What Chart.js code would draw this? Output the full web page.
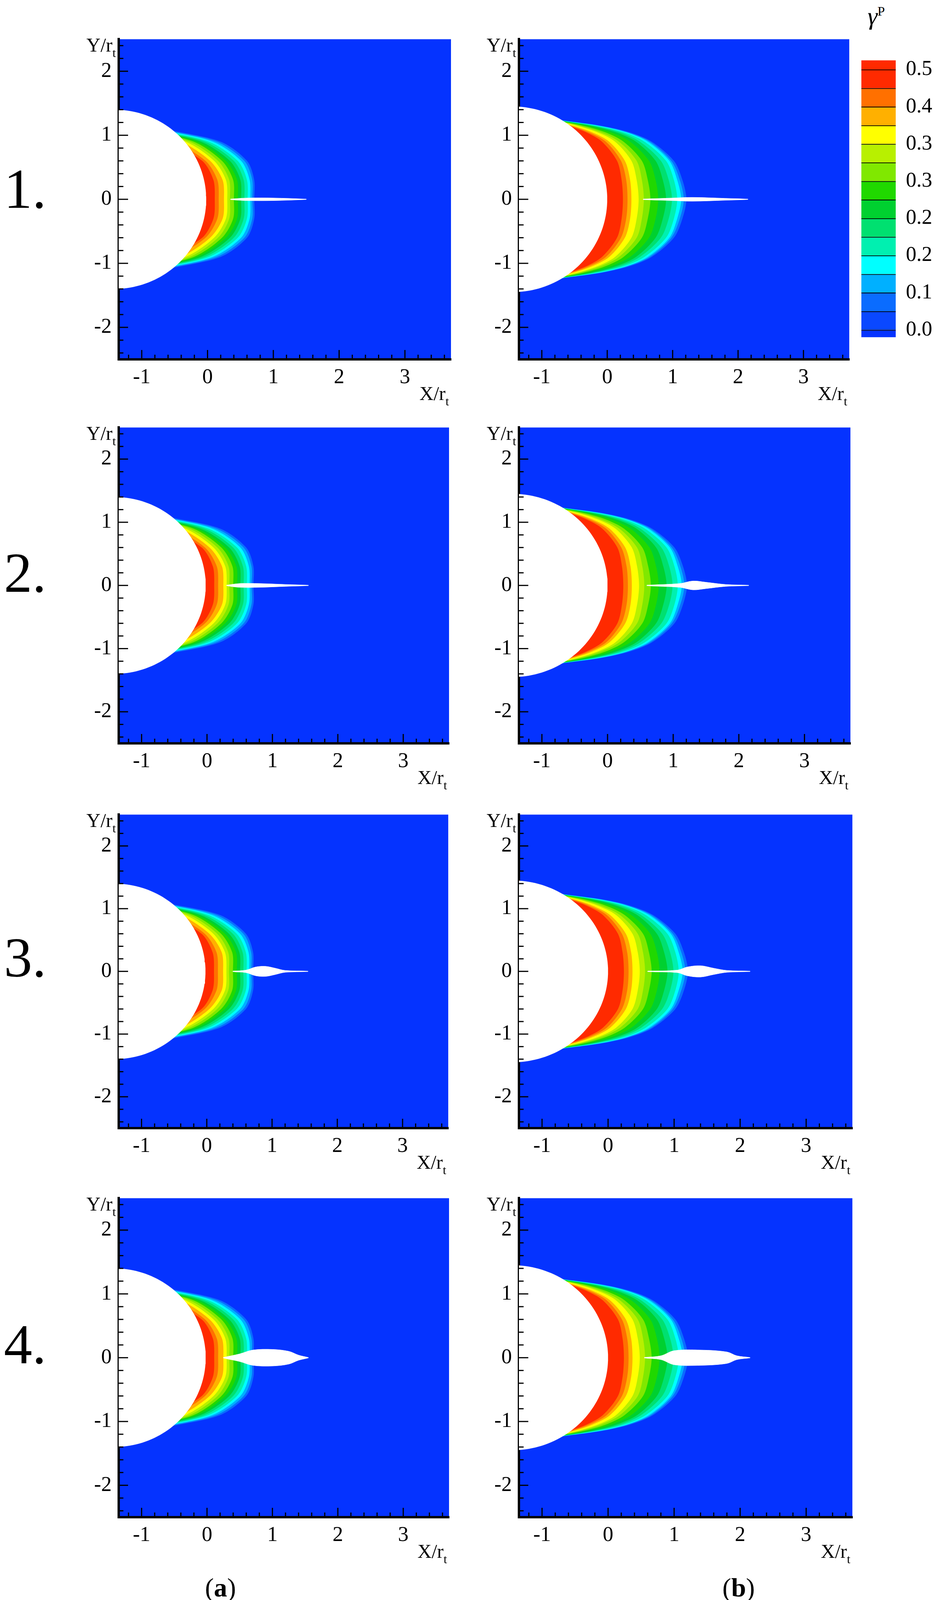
<!DOCTYPE html>
<html>
<head>
<meta charset="utf-8">
<script src="https://cdn.jsdelivr.net/npm/chart.js@4.4.0/dist/chart.umd.min.js"></script>
<style>
  body { margin: 0; background: #fff; width: 2433px; height: 4148px; position: relative; overflow: hidden; }
  canvas { position: absolute; }
  .lbl { position: absolute; font-family: "Liberation Serif", serif; color: #000; }
</style>
</head>
<body>
<div class="lbl" style="left:10px;top:400px;font-size:145px">1.</div>
<div class="lbl" style="left:10px;top:1383px;font-size:145px">2.</div>
<div class="lbl" style="left:10px;top:2368px;font-size:145px">3.</div>
<div class="lbl" style="left:10px;top:3358px;font-size:145px">4.</div>
<div class="lbl" style="left:525px;top:4025px;font-size:68px">(<b>a</b>)</div>
<div class="lbl" style="left:1850px;top:4025px;font-size:68px">(<b>b</b>)</div>
<div class="lbl" style="left:2222px;top:4px;font-size:64px;font-style:italic">γ<sup style="font-size:34px;font-style:normal">P</sup></div>
<script>
// contour level boundaries: x positions at these y values (upper half, mirrored below)
const levelYsA = [0, 0.3, 0.6, 0.9, 1.1, 1.3];
const levelYsB = [0, 0.3, 0.6, 0.9, 1.05, 1.15, 1.3];
const levelColors = ['#0a6cff', '#00b0ff', '#00ffff', '#00f0b0', '#00e070', '#00d030',
  '#20d800', '#80e800', '#b8f000', '#ffff00', '#ffb000', '#ff7000', '#ff2a00'];
const levelsA = [
  [0.71, 0.71, 0.60, 0.20, -0.65, -1.3],
  [0.68, 0.68, 0.56, 0.14, -0.70, -1.3],
  [0.65, 0.64, 0.51, 0.08, -0.75, -1.3],
  [0.61, 0.60, 0.46, 0.02, -0.80, -1.3],
  [0.56, 0.55, 0.40, -0.04, -0.85, -1.3],
  [0.51, 0.50, 0.34, -0.10, -0.90, -1.3],
  [0.46, 0.45, 0.28, -0.16, -0.95, -1.3],
  [0.40, 0.39, 0.22, -0.21, -1.0, -1.3],
  [0.34, 0.33, 0.16, -0.27, -1.0, -1.3],
  [0.30, 0.28, 0.10, -0.33, -1.0, -1.3],
  [0.25, 0.23, 0.04, -0.40, -1.0, -1.3],
  [0.17, 0.15, -0.03, -0.50, -1.0, -1.3],
  [0.11, 0.09, -0.08, -0.60, -1.0, -1.3]
];
const levelsB = [
  [1.21, 1.15, 1.02, 0.68, 0.33, -0.10, -1.1],
  [1.17, 1.11, 0.98, 0.65, 0.30, -0.12, -1.1],
  [1.13, 1.07, 0.95, 0.62, 0.28, -0.14, -1.1],
  [1.07, 1.02, 0.90, 0.57, 0.24, -0.18, -1.1],
  [0.99, 0.94, 0.82, 0.50, 0.18, -0.22, -1.1],
  [0.90, 0.85, 0.74, 0.44, 0.12, -0.26, -1.1],
  [0.78, 0.74, 0.64, 0.35, 0.04, -0.32, -1.1],
  [0.66, 0.62, 0.53, 0.25, -0.04, -0.38, -1.1],
  [0.56, 0.53, 0.45, 0.18, -0.11, -0.43, -1.1],
  [0.48, 0.45, 0.37, 0.12, -0.16, -0.47, -1.1],
  [0.37, 0.35, 0.27, 0.03, -0.24, -0.53, -1.1],
  [0.31, 0.29, 0.21, -0.02, -0.29, -0.56, -1.1],
  [0.24, 0.22, 0.15, -0.08, -0.33, -0.60, -1.1]
];
// droplet (white body): centre x, radius
const bodyA = [-1.42, 1.40];
const bodyB = [-1.45, 1.45];
// wake: [x, half thickness]
const wake1a = [[0.35, 0.005], [0.6, 0.02], [1.0, 0.02], [1.5, 0.003]];
const wake1b = [[0.55, 0.005], [1.0, 0.02], [1.3, 0.03], [1.8, 0.015], [2.15, 0.003]];
const wake2a = [[0.3, 0.005], [0.5, 0.03], [0.8, 0.03], [1.2, 0.015], [1.55, 0.003]];
const wake2b = [[0.6, 0.005], [1.1, 0.03], [1.3, 0.07], [1.5, 0.05], [1.8, 0.015], [2.15, 0.003]];
const wake3a = [[0.4, 0.005], [0.6, 0.02], [0.75, 0.07], [0.9, 0.08], [1.05, 0.05], [1.2, 0.015], [1.55, 0.003]];
const wake3b = [[0.6, 0.005], [1.05, 0.02], [1.2, 0.07], [1.4, 0.09], [1.6, 0.05], [1.8, 0.015], [2.15, 0.003]];
const wake4a = [[0.25, 0.005], [0.5, 0.06], [0.7, 0.12], [1.0, 0.13], [1.25, 0.1], [1.4, 0.04], [1.55, 0.003]];
const wake4b = [[0.55, 0.005], [0.8, 0.03], [1.0, 0.11], [1.4, 0.12], [1.8, 0.09], [1.95, 0.03], [2.15, 0.003]];
const xMajor = [-1, 0, 1, 2, 3];
const yMajor = [-2, -1, 0, 1, 2];
// colour bar
const barColors = ['#0533ff', '#0a48ff', '#0a6cff', '#00b0ff', '#00ffff', '#00f0b0', '#00e070',
  '#00d030', '#20d800', '#80e800', '#b8f000', '#ffff00', '#ffb000', '#ff7000', '#ff2a00', '#ff2a00'];
const barSizes = [0.4, 1, 1, 1, 1, 1, 1, 1, 1, 1, 1, 1, 1, 1, 1, 0.5];
const barTickPos = [0.4, 2.4, 4.4, 6.4, 8.4, 10.4, 12.4, 14.4];
const barTickLabels = ['0.0', '0.1', '0.2', '0.2', '0.3', '0.3', '0.4', '0.5'];

const BLUE = '#0533ff';
const FONT = '"Liberation Serif", serif';

function levelShape(xs, ys) {
  const pts = [{ x: -1.45, y: -1.45 }];
  for (let i = ys.length - 1; i >= 0; i--) pts.push({ x: xs[i], y: -ys[i] });
  for (let i = 1; i < ys.length; i++) pts.push({ x: xs[i], y: ys[i] });
  pts.push({ x: -1.45, y: 1.45 });
  pts.push(pts[0]);
  return pts;
}
function bodyShape(b) {
  const pts = [];
  for (let i = 0; i <= 90; i++) {
    const a = -Math.PI / 2 + Math.PI * i / 90;
    pts.push({ x: b[0] + b[1] * Math.cos(a), y: b[1] * Math.sin(a) });
  }
  pts.push({ x: -1.6, y: b[1] }, { x: -1.6, y: -b[1] }, pts[0]);
  return pts;
}
function wakeShape(w) {
  const pts = w.map(p => ({ x: p[0], y: p[1] }));
  for (let i = w.length - 1; i >= 0; i--) pts.push({ x: w[i][0], y: -w[i][1] });
  pts.push(pts[0]);
  return pts;
}

const frame = {
  id: 'frame',
  beforeDraw(c) {
    const a = c.chartArea, ctx = c.ctx;
    ctx.save(); ctx.fillStyle = BLUE; ctx.fillRect(a.left, a.top, a.right - a.left, a.bottom - a.top); ctx.restore();
  },
  afterDraw(c) {
    const ctx = c.ctx, a = c.chartArea, xs = c.scales.x, ys = c.scales.y;
    ctx.save(); ctx.strokeStyle = '#000'; ctx.lineWidth = 3;
    for (let i = -6; i <= 18; i++) {
      const p = xs.getPixelForValue(i / 5);
      if (p < a.left || p > a.right) continue;
      const len = i % 5 === 0 ? 24 : 12;
      ctx.beginPath(); ctx.moveTo(p, a.bottom); ctx.lineTo(p, a.bottom - len); ctx.stroke();
    }
    for (let i = -12; i <= 12; i++) {
      const p = ys.getPixelForValue(i / 5);
      const len = i % 5 === 0 ? 24 : 12;
      ctx.beginPath(); ctx.moveTo(a.left, p); ctx.lineTo(a.left + len, p); ctx.stroke();
    }
    ctx.fillStyle = '#000'; ctx.textBaseline = 'alphabetic';
    ctx.font = '50px ' + FONT; ctx.textAlign = 'right';
    ctx.fillText('Y/r', a.left - 16, a.top + 32);
    ctx.font = '32px ' + FONT; ctx.textAlign = 'left';
    ctx.fillText('t', a.left - 16, a.top + 46);
    ctx.font = '50px ' + FONT; ctx.textAlign = 'right';
    ctx.fillText('X/r', a.right - 14, a.bottom + 104);
    ctx.font = '32px ' + FONT; ctx.textAlign = 'left';
    ctx.fillText('t', a.right - 14, a.bottom + 118);
    ctx.restore();
  }
};

function panel(left, top, w, h, levels, lys, body, wake) {
  const cv = document.createElement('canvas');
  const W = w + 130, H = h + 130;
  cv.width = W; cv.height = H;
  cv.style.left = (left - 120) + 'px'; cv.style.top = top + 'px';
  document.body.appendChild(cv);
  const ds = levels.map((xs, k) => ({
    data: levelShape(xs, lys), backgroundColor: levelColors[k], borderWidth: 0,
    fill: 'shape', tension: 0.3, pointRadius: 0, order: 100 - k
  }));
  ds.push({ data: bodyShape(body), backgroundColor: '#fff', borderWidth: 0, fill: 'shape', pointRadius: 0, order: 1 });
  ds.push({ data: wakeShape(wake), backgroundColor: '#fff', borderColor: '#fff', borderWidth: 1, fill: 'shape', tension: 0.35, pointRadius: 0, order: 0 });
  new Chart(cv, {
    type: 'scatter',
    data: { datasets: ds },
    options: {
      responsive: false, animation: false, devicePixelRatio: 1,
      showLine: true,
      layout: { padding: { top: 0, right: 10, left: 0, bottom: 0 } },
      plugins: { legend: { display: false }, tooltip: { enabled: false } },
      scales: {
        x: {
          type: 'linear', min: -1.35, max: 3.7,
          afterBuildTicks: s => { s.ticks = xMajor.map(v => ({ value: v })); },
          afterFit: s => { s.height = 130; },
          grid: { display: false }, border: { display: true, color: '#000', width: 6 },
          ticks: { color: '#000', font: { family: FONT, size: 54 }, padding: 6, maxRotation: 0 }
        },
        y: {
          type: 'linear', min: -2.5, max: 2.5,
          afterBuildTicks: s => { s.ticks = yMajor.map(v => ({ value: v })); },
          afterFit: s => { s.width = 120; },
          grid: { display: false }, border: { display: true, color: '#000', width: 6 },
          ticks: { color: '#000', font: { family: FONT, size: 54 }, padding: 10 }
        }
      }
    },
    plugins: [frame]
  });
}

panel(304, 58, 851, 862, levelsA, levelYsA, bodyA, wake1a);
panel(1329, 58, 846, 862, levelsB, levelYsB, bodyB, wake1b);
panel(304, 1052, 846, 851, levelsA, levelYsA, bodyA, wake2a);
panel(1329, 1052, 849, 851, levelsB, levelYsB, bodyB, wake2b);
panel(304, 2043, 844, 845, levelsA, levelYsA, bodyA, wake3a);
panel(1329, 2043, 854, 845, levelsB, levelYsB, bodyB, wake3b);
panel(304, 3025, 846, 859, levelsA, levelYsA, bodyA, wake4a);
panel(1329, 3025, 854, 859, levelsB, levelYsB, bodyB, wake4b);

// colour bar
const cb = document.createElement('canvas');
cb.width = 230; cb.height = 810;
cb.style.left = '2206px'; cb.style.top = '104px';
document.body.appendChild(cb);
new Chart(cb, {
  type: 'bar',
  data: {
    labels: [''],
    datasets: barSizes.map((v, i) => ({
      data: [v], backgroundColor: barColors[i], borderColor: '#000',
      borderWidth: { top: i < barSizes.length - 1 ? 2 : 0, bottom: 0, left: 0, right: 0 },
      borderSkipped: false, barPercentage: 1, categoryPercentage: 1
    }))
  },
  options: {
    responsive: false, animation: false, devicePixelRatio: 1,
    layout: { padding: { top: 2, bottom: 2 } },
    plugins: { legend: { display: false }, tooltip: { enabled: false } },
    scales: {
      x: { stacked: true, display: false },
      y: {
        stacked: true, position: 'right', min: 0, max: 14.9,
        afterBuildTicks: s => { s.ticks = barTickPos.map(v => ({ value: v })); },
        afterFit: s => { s.width = 142; },
        grid: { display: false }, border: { display: false },
        ticks: { color: '#000', font: { family: FONT, size: 54 }, padding: 18,
          callback: (v, i) => barTickLabels[i] }
      }
    }
  }
});
</script>
</body>
</html>
